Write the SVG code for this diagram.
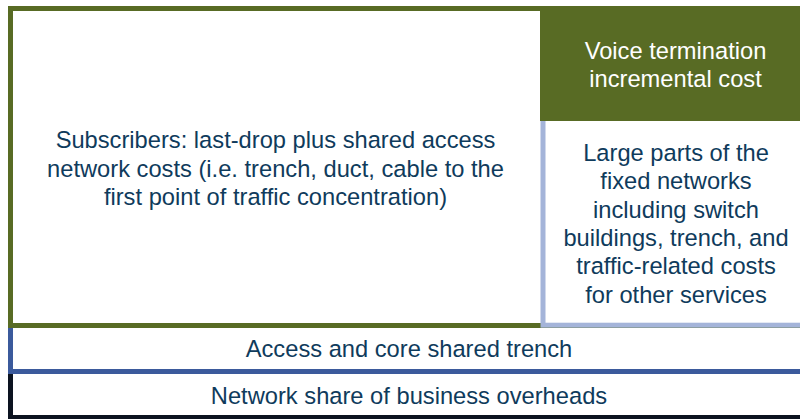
<svg xmlns="http://www.w3.org/2000/svg" width="800" height="419" viewBox="0 0 800 419">
  <style>
    .t { font-family: "Liberation Sans", Arial, sans-serif; font-size: 23.7px; fill: #0f3b5c; text-anchor: middle; }
    .w { fill: #ffffff; }
    .frame { fill: #ffffff; stroke-width: 5; }
  </style>
  <rect width="800" height="419" fill="#ffffff"/>
  <g id="overheads">
    <rect class="frame" x="10.5" y="371.5" width="797.5" height="46" stroke="#0c1320"/>
    <text class="t" x="409" y="404.3">Network share of business overheads</text>
  </g>
  <g id="shared-trench">
    <rect class="frame" x="10.5" y="325.5" width="797.5" height="46" stroke="#3b5a9c"/>
    <text class="t" x="409" y="357.3">Access and core shared trench</text>
  </g>
  <g id="subscribers">
    <rect class="frame" x="10.5" y="8.5" width="797.5" height="317" stroke="#586b24"/>
    <text class="t" x="275.5" y="147.7">Subscribers: last-drop plus shared access</text>
    <text class="t" x="275.5" y="176.5">network costs (i.e. trench, duct, cable to the</text>
    <text class="t" x="275.5" y="205.3">first point of traffic concentration)</text>
  </g>
  <g id="fixed-networks">
    <rect class="frame" x="543" y="118" width="265" height="207.2" stroke="#a4b4d9"/>
    <text class="t" x="676" y="160.7">Large parts of the</text>
    <text class="t" x="676" y="189.1">fixed networks</text>
    <text class="t" x="676" y="217.5">including switch</text>
    <text class="t" x="676" y="245.9">buildings, trench, and</text>
    <text class="t" x="676" y="274.3">traffic-related costs</text>
    <text class="t" x="676" y="302.7">for other services</text>
  </g>
  <g id="voice-termination">
    <rect x="540" y="6" width="268" height="115" fill="#586b24"/>
    <text class="t w" x="675.5" y="59">Voice termination</text>
    <text class="t w" x="675.5" y="87">incremental cost</text>
  </g>
  <g id="connectors"/>
</svg>
